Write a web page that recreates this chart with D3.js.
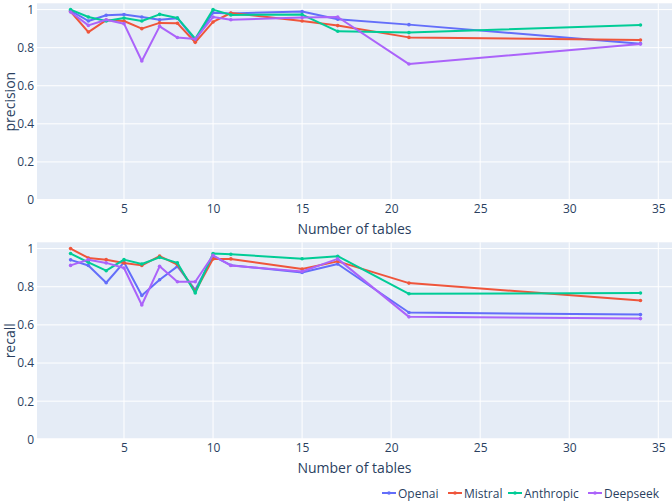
<!DOCTYPE html>
<head>
<meta charset="utf-8">
<title>Precision and recall vs. number of tables</title>
<script src="https://d3js.org/d3.v7.min.js"></script>
</head>

<style>
body { margin: 0; background: #fff; }
text { font-family: "Open Sans", verdana, arial, sans-serif; fill: #2a3f5f; }
</style>

<body>
<svg class="chart"></svg>
</body>

<script>
// number of tables (x)
var tables = [2, 3, 4, 5, 6, 7, 8, 9, 10, 11, 15, 17, 21, 34];
var models = ["Openai", "Mistral", "Anthropic", "Deepseek"];
var colors = ["#636efa", "#EF553B", "#00cc96", "#ab63fa"];

// precision, one array per model
var precOpenai    = [0.995, 0.94, 0.97, 0.974, 0.961, 0.947, 0.955, 0.84, 0.984, 0.98, 0.99, 0.949, 0.921, 0.821];
var precMistral   = [0.99, 0.882, 0.945, 0.94, 0.90, 0.93, 0.928, 0.828, 0.935, 0.982, 0.94, 0.916, 0.854, 0.84];
var precAnthropic = [1.0, 0.961, 0.94, 0.956, 0.94, 0.975, 0.956, 0.847, 1.0, 0.972, 0.974, 0.886, 0.879, 0.919];
var precDeepseek  = [0.987, 0.917, 0.947, 0.926, 0.73, 0.912, 0.853, 0.845, 0.961, 0.947, 0.958, 0.961, 0.714, 0.819];

// recall, one array per model
var recOpenai    = [0.941, 0.911, 0.821, 0.928, 0.754, 0.837, 0.907, 0.784, 0.96, 0.913, 0.875, 0.919, 0.665, 0.654];
var recMistral   = [1.0, 0.951, 0.942, 0.925, 0.912, 0.961, 0.916, 0.775, 0.946, 0.946, 0.893, 0.933, 0.819, 0.728];
var recAnthropic = [0.974, 0.928, 0.884, 0.942, 0.919, 0.954, 0.925, 0.767, 0.974, 0.97, 0.947, 0.96, 0.763, 0.767];
var recDeepseek  = [0.912, 0.942, 0.925, 0.898, 0.704, 0.907, 0.826, 0.826, 0.965, 0.911, 0.88, 0.946, 0.642, 0.633];

var yTicks = [0, 0.2, 0.4, 0.6, 0.8, 1];
var xTicks = [5, 10, 15, 20, 25, 30, 35];

var width = 672, height = 504;
var svg = d3.select(".chart").attr("width", width).attr("height", height);

var x = d3.scaleLinear().domain([0.115, 35.77]).range([37, 672]);

function panel(top, bottom, series, title)
{
	var y = d3.scaleLinear().domain([0, 1.033]).range([bottom, top]);
	var g = svg.append("g");

	g.append("rect")
		.attr("x", x.range()[0]).attr("y", top)
		.attr("width", x.range()[1] - x.range()[0])
		.attr("height", bottom - top)
		.attr("fill", "#E5ECF6");

	//grid
	g.selectAll(".gx").data(xTicks).enter().append("line")
		.attr("x1", d => x(d)).attr("x2", d => x(d))
		.attr("y1", top).attr("y2", bottom)
		.attr("stroke", "#fff").attr("stroke-width", 1);
	g.selectAll(".gy").data(yTicks).enter().append("line")
		.attr("x1", x.range()[0]).attr("x2", x.range()[1])
		.attr("y1", d => y(d)).attr("y2", d => y(d))
		.attr("stroke", "#fff").attr("stroke-width", d => d == 0 ? 2 : 1);

	//left axis
	var yAxis = d3.axisLeft(y).tickValues(yTicks).tickSize(0).tickPadding(3)
		.tickFormat(d => d == 0 ? "0" : d == 1 ? "1" : d3.format(".1f")(d));
	g.append("g").attr("transform", "translate(" + x.range()[0] + ",0)").call(yAxis)
		.call(a => a.select(".domain").remove())
		.selectAll("text").style("font-size", "12px").attr("fill", "#2a3f5f");

	//bottom axis
	var xAxis = d3.axisBottom(x).tickValues(xTicks).tickSize(0).tickPadding(4);
	g.append("g").attr("transform", "translate(0," + bottom + ")").call(xAxis)
		.call(a => a.select(".domain").remove())
		.selectAll("text").style("font-size", "12px").attr("fill", "#2a3f5f");

	var line = d3.line().x((d, i) => x(tables[i])).y(d => y(d));
	series.forEach(function(s, k) {
		g.append("path").datum(s)
			.attr("d", line)
			.attr("fill", "none")
			.attr("stroke", colors[k])
			.attr("stroke-width", 2)
			.attr("stroke-linejoin", "round");
		g.selectAll(".m" + k).data(s).enter().append("circle")
			.attr("cx", (d, i) => x(tables[i]))
			.attr("cy", d => y(d))
			.attr("r", 1.8)
			.attr("fill", colors[k]);
	});

	// titles
	g.append("text")
		.attr("transform", "translate(15," + ((top + bottom) / 2) + ") rotate(-90)")
		.attr("text-anchor", "middle")
		.style("font-size", "14px")
		.text(title);
	g.append("text")
		.attr("x", (x.range()[0] + x.range()[1]) / 2)
		.attr("y", bottom + 34)
		.attr("text-anchor", "middle")
		.style("font-size", "14px")
		.text("Number of tables");
}

panel(3.3, 200, [precOpenai, precMistral, precAnthropic, precDeepseek], "precision");
panel(242.3, 439.3, [recOpenai, recMistral, recAnthropic, recDeepseek], "recall");

// legend
var legendX = [382, 448, 508, 588];
var legend = svg.append("g").attr("transform", "translate(0,493)");
models.forEach(function(m, k) {
	var item = legend.append("g").attr("transform", "translate(" + legendX[k] + ",0)");
	item.append("line").attr("x1", 0).attr("x2", 14).attr("y1", 0).attr("y2", 0)
		.attr("stroke", colors[k]).attr("stroke-width", 2);
	item.append("circle").attr("cx", 7).attr("cy", 0).attr("r", 1.8).attr("fill", colors[k]);
	item.append("text").attr("x", 16).attr("y", 4.5)
		.style("font-size", "12px").text(m);
});
</script>
